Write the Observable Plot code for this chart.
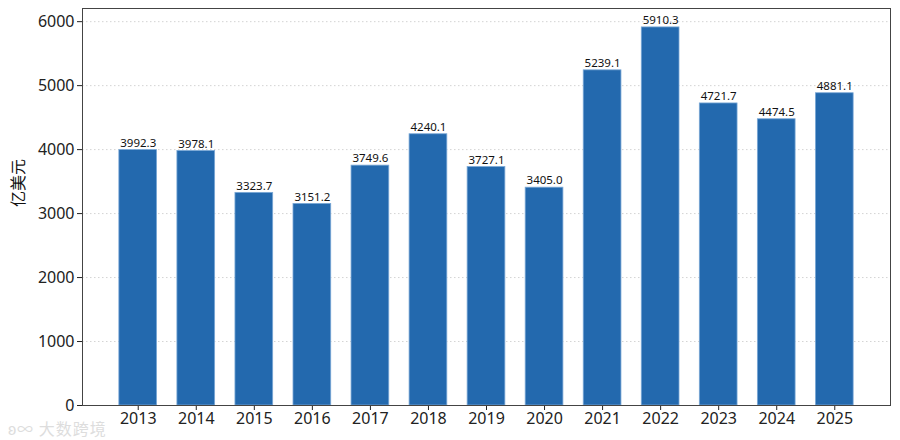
<!DOCTYPE html>
<html>
<head>
<meta charset="utf-8">
<script src="https://cdn.jsdelivr.net/npm/d3@7"></script>
<script src="https://cdn.jsdelivr.net/npm/@observablehq/plot@0.6"></script>
<style>
  html, body { margin: 0; padding: 0; background: #fff; }
  #wrap { position: relative; width: 900px; height: 440px; }
  #wm { position: absolute; left: 8px; top: 419px; font: 16px "Noto Sans CJK SC", sans-serif; line-height: 18px; color: #ddd; letter-spacing: 1px; }
</style>
</head>
<body>
<div id="wrap"><div id="chart"></div><div id="wm">ʚ∞ 大数跨境</div></div>
<script>
const years = [2013, 2014, 2015, 2016, 2017, 2018, 2019, 2020, 2021, 2022, 2023, 2024, 2025];
const values = [3992.3, 3978.1, 3323.7, 3151.2, 3749.6, 4240.1, 3727.1, 3405.0, 5239.1, 5910.3, 4721.7, 4474.5, 4881.1];
const yTicks = [0, 1000, 2000, 3000, 4000, 5000, 6000];
const yLabel = "亿美元";

const data = years.map((y, i) => ({year: y, value: values[i]}));
const barW = 0.65;
const font = "'Noto Sans', 'Noto Sans CJK SC', sans-serif";

const chart = Plot.plot({
  width: 900,
  height: 440,
  marginLeft: 82,
  marginRight: 10,
  marginTop: 8,
  marginBottom: 35,
  style: {fontFamily: font, background: "#fff", color: "#222"},
  x: {type: "linear", domain: [2012.04, 2025.96]},
  y: {domain: [0, d3.max(values) * 1.05]},
  marks: [
    Plot.gridY(yTicks, {stroke: "#c8c8c8", strokeOpacity: 1, strokeDasharray: "1.5,2.5", strokeWidth: 0.8}),
    Plot.rectY(data, {
      x1: d => d.year - barW / 2,
      x2: d => d.year + barW / 2,
      y1: 0,
      y2: "value",
      fill: "#2369ae",
      stroke: "#7aa8d6",
      strokeWidth: 0.8
    }),
    Plot.text(data, {
      x: "year", y: "value", text: d => d.value.toFixed(1),
      dy: -7, fontSize: 11.5, fill: "#111", fontFamily: font
    }),
    Plot.axisX({ticks: years, tickFormat: d => String(d), tickSize: 5, fontSize: 16, tickPadding: 2, label: null}),
    Plot.axisY({ticks: yTicks, tickFormat: d => String(d), tickSize: 5, fontSize: 16, tickPadding: 3, label: null}),
    Plot.frame({stroke: "#444", strokeWidth: 1}),
    Plot.text([yLabel], {frameAnchor: "left", dx: -64, rotate: -90, fontSize: 16, fill: "#111", fontFamily: "'Noto Sans CJK SC', sans-serif"})
  ]
});
document.getElementById("chart").appendChild(chart);
</script>
</body>
</html>
